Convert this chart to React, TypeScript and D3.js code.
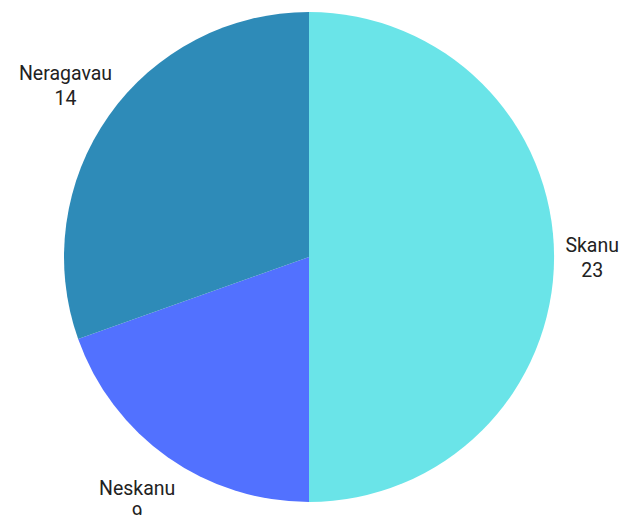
import React from "react";
import * as d3 from "d3";

const categories = ["Skanu", "Neskanu", "Neragavau"];
const values = [23, 9, 14];
const colors = ["#6AE4E8", "#5271FF", "#2E8BB8"];

const W = 624;
const H = 515;
const CX = 309;
const CY = 257;
const R = 245;
const LABEL_R = 298;
const FONT = "Roboto, 'Open Sans', sans-serif";
const FONT_SIZE = 19.5;
const LINE_H = 25;

function measure(text: string): number {
  const c = document.createElement("canvas").getContext("2d");
  if (!c) return text.length * 10;
  c.font = `${FONT_SIZE}px Roboto`;
  return c.measureText(text).width;
}

export default function App() {
  const data = categories.map((c, i) => ({ name: c, value: values[i], color: colors[i] }));
  const pie = d3.pie<any>().value((d) => d.value).sort(null);
  const arcs = pie(data);
  const arc = d3.arc<any>().innerRadius(0).outerRadius(R);
  const labelArc = d3.arc<any>().innerRadius(LABEL_R).outerRadius(LABEL_R);

  return (
    <svg
      width={W}
      height={H}
      style={{ position: "fixed", left: 0, top: 0, background: "#fff" }}
    >
      <g transform={`translate(${CX},${CY})`}>
        {arcs.map((a, i) => (
          <path key={i} d={arc(a) || ""} fill={a.data.color} />
        ))}
      </g>
      {arcs.map((a, i) => {
        const [lx, ly] = labelArc.centroid(a);
        const w = Math.max(measure(a.data.name), measure(String(a.data.value)));
        let x = CX + lx;
        x = Math.max(9 + w / 2, Math.min(W - 5 - w / 2, x));
        const y = CY + ly;
        return (
          <text
            key={i}
            x={x}
            y={y}
            textAnchor="middle"
            fontFamily={FONT}
            fontSize={FONT_SIZE}
            fill="#222"
          >
            <tspan x={x} dy={-LINE_H / 2 + 7}>{a.data.name}</tspan>
            <tspan x={x} dy={LINE_H}>{a.data.value}</tspan>
          </text>
        );
      })}
    </svg>
  );
}
